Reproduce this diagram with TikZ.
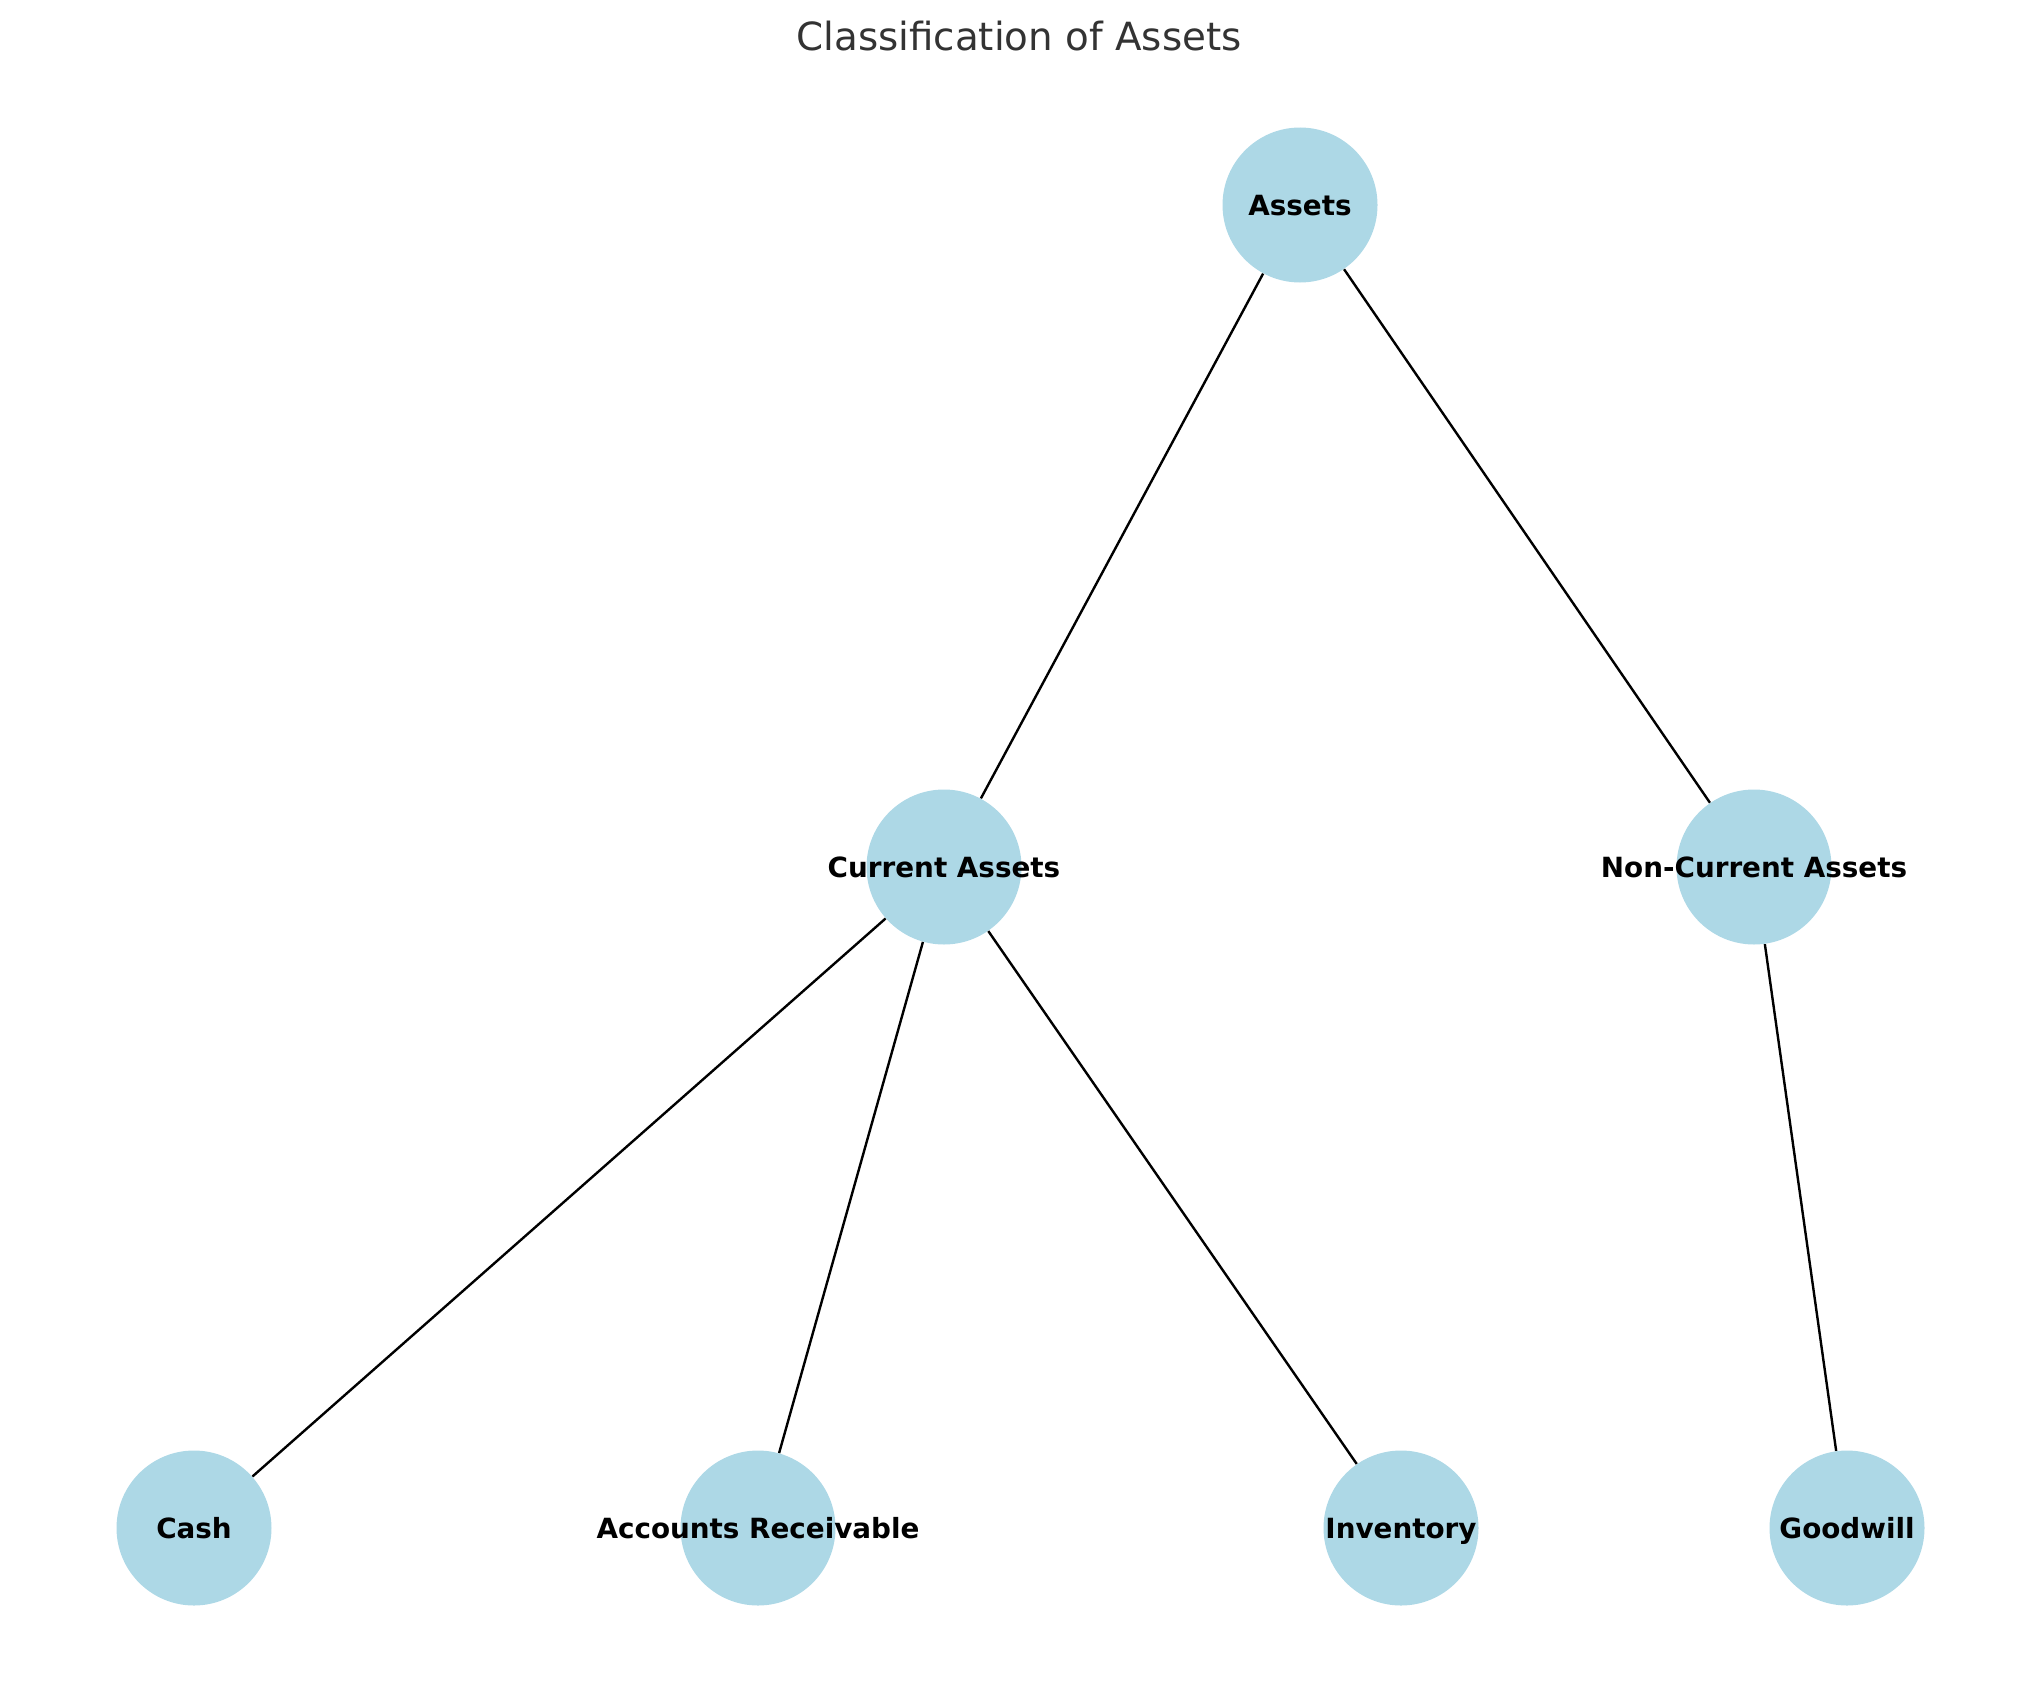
\documentclass[tikz,border=0pt]{standalone}
\usepackage{fontspec}
\setmainfont{DejaVu Sans}
\definecolor{nodefill}{HTML}{ADD8E6}
\definecolor{titlegray}{HTML}{333333}
\begin{document}
\begin{tikzpicture}[x=0.5pt,y=-0.5pt,
  bubble/.style={circle,fill=nodefill,draw=none,minimum size=77.5pt,inner sep=0pt},
  caption/.style={font=\fontsize{13.9pt}{17pt}\selectfont\bfseries,text=black,inner sep=0pt,text depth=0pt},
  link/.style={draw=black,line width=1.2pt}]
  \useasboundingbox (0,0) rectangle (2039,1686);
  \node[anchor=base,text=titlegray,font=\fontsize{19.4pt}{23pt}\selectfont,inner sep=0pt] (title) at (1019,51) {Classification of Assets};

  % circles
  \node[bubble] (assets) at (1300,205) {};
  \node[bubble] (current) at (944,867) {};
  \node[bubble] (noncurrent) at (1754,867) {};
  \node[bubble] (cash) at (194,1528) {};
  \node[bubble] (ar) at (758,1528) {};
  \node[bubble] (inventory) at (1401,1528) {};
  \node[bubble] (goodwill) at (1847,1528) {};

  % tree edges
  \draw[link] (assets) -- (current);
  \draw[link] (assets) -- (noncurrent);
  \draw[link] (current) -- (cash);
  \draw[link] (current) -- (ar);
  \draw[link] (current) -- (inventory);
  \draw[link] (noncurrent) -- (goodwill);

  % labels
  \node[caption] (tassets) at (assets.center) {Assets};
  \node[caption] (tcurrent) at (current.center) {Current Assets};
  \node[caption] (tnoncurrent) at (noncurrent.center) {Non-Current Assets};
  \node[caption] (tcash) at (cash.center) {Cash};
  \node[caption] (tar) at (ar.center) {Accounts Receivable};
  \node[caption] (tinventory) at (inventory.center) {Inventory};
  \node[caption] (tgoodwill) at (goodwill.center) {Goodwill};
\end{tikzpicture}
\end{document}
